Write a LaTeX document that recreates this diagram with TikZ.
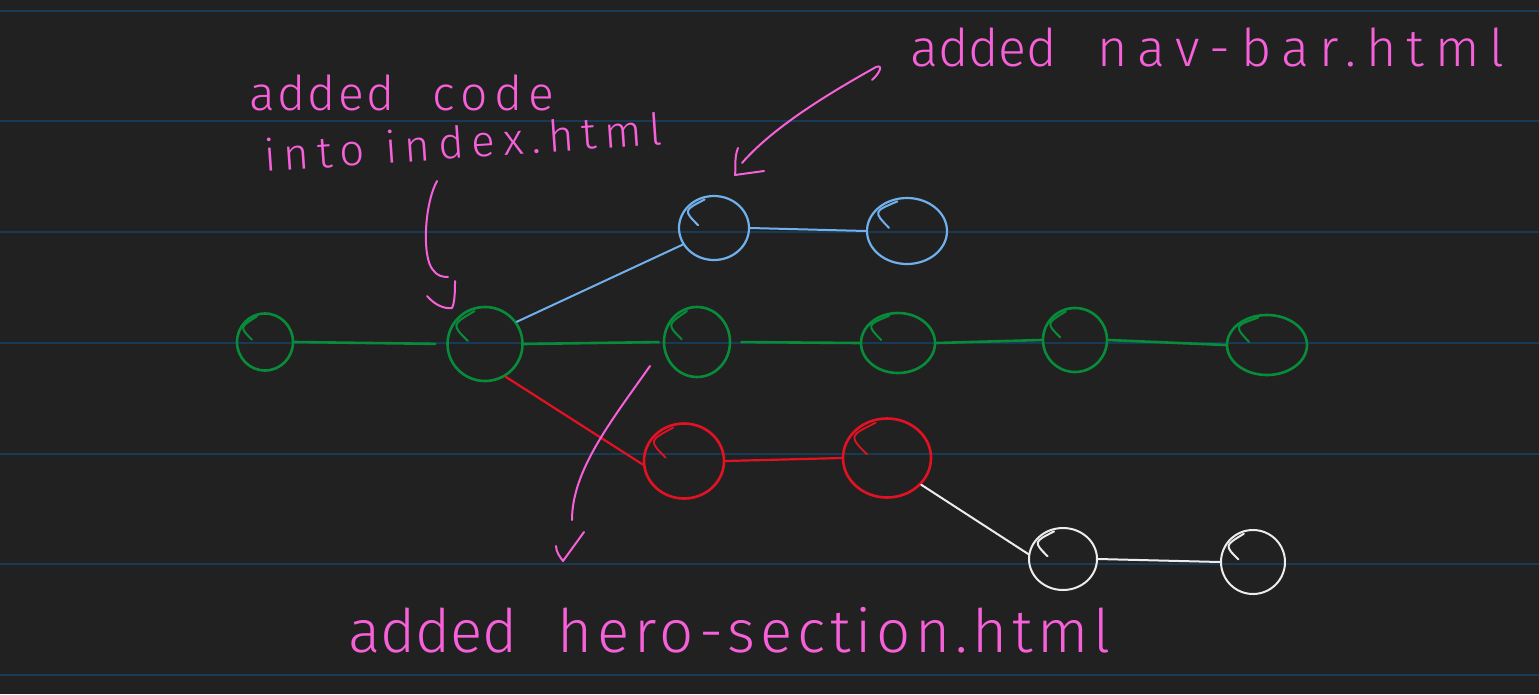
\documentclass[tikz,border=0pt]{standalone}
\usepackage{fontspec}
\usepackage{xcolor}
\usepackage{tikz}
\usetikzlibrary{shapes.geometric,calc}
\newfontfamily\handfont{Fira Sans}[UprightFont=* Light]
\definecolor{board}{RGB}{33,33,33}
\definecolor{rulecol}{RGB}{24,58,84}
\definecolor{inkgreen}{RGB}{8,140,58}
\definecolor{inkblue}{RGB}{112,176,236}
\definecolor{inkred}{RGB}{226,18,36}
\definecolor{inkwhite}{RGB}{236,236,236}
\definecolor{inkpink}{RGB}{246,96,216}
\tikzset{
  commit/.style={ellipse, draw, inner sep=0pt, line width=2.6pt},
  sz/.style 2 args={minimum width=#1pt, minimum height=#2pt},
  gcommit/.style={commit, draw=inkgreen},
  bcommit/.style={commit, draw=inkblue, line width=2.2pt},
  rcommit/.style={commit, draw=inkred},
  wcommit/.style={commit, draw=inkwhite, line width=2pt},
  gedge/.style={draw=inkgreen, line width=2.6pt, line cap=round},
  bedge/.style={draw=inkblue, line width=2pt, line cap=round},
  redge/.style={draw=inkred, line width=2.2pt, line cap=round},
  wedge/.style={draw=inkwhite, line width=2pt, line cap=round},
  rule/.style={draw=rulecol, line width=2pt},
  note/.style={draw=inkpink, line width=2pt, line cap=round, line join=round}, % hand drawn pointers
  notetext/.style={text=inkpink, inner sep=0pt, anchor=base west}
}

\begin{document}
\begin{tikzpicture}[x=1pt, y=-1pt]
  % board and ruled lines
  \fill[board] (0,0) rectangle (1539,694);
  \useasboundingbox (0,0) rectangle (1539,694);
  \foreach \y in {11,121,232,343,454,564,675}
    \draw[rule] (0,\y) -- (1539,\y);

  % main branch
  \node[gcommit, sz={56}{57}] (G1) at (265,342) {};
  \node[gcommit, sz={75}{74}] (G2) at (485,344) {};
  \node[gcommit, sz={66}{70}] (G3) at (697,342) {};
  \node[gcommit, sz={74}{60}] (G4) at (898,343) {};
  \node[gcommit, sz={64}{64}] (G5) at (1075,340) {};
  \node[gcommit, sz={80}{60}] (G6) at (1267,345) {};

  % nav-bar branch
  \node[bcommit, sz={70}{64}] (B1) at (714,228) {};
  \node[bcommit, sz={80}{66}] (B2) at (907,231) {};

  % hero-section branch
  \node[rcommit, sz={80}{75}] (R1) at (684,461) {};
  \node[rcommit, sz={88}{79}] (R2) at (887,458) {};

  % branch off hero-section
  \node[wcommit, sz={68}{62}] (W1) at (1063,559) {};
  \node[wcommit, sz={64}{64}] (W2) at (1253,562) {};

  % pen starts inside the circles
  \foreach \n in {G1,G2,G3,G4,G5,G6}
    \draw[gedge, line width=2pt] ($(\n.center)!0.45!(\n.170)$) .. controls ($(\n.center)!1!(\n.150)$) .. ($(\n.center)!0.9!(\n.108)$);
  \foreach \n in {B1,B2}
    \draw[bedge] ($(\n.center)!0.45!(\n.170)$) .. controls ($(\n.center)!1!(\n.150)$) .. ($(\n.center)!0.9!(\n.108)$);
  \foreach \n in {R1,R2}
    \draw[redge, line width=1.8pt] ($(\n.center)!0.45!(\n.170)$) .. controls ($(\n.center)!1!(\n.150)$) .. ($(\n.center)!0.9!(\n.108)$);
  \foreach \n in {W1,W2}
    \draw[wedge] ($(\n.center)!0.45!(\n.170)$) .. controls ($(\n.center)!1!(\n.150)$) .. ($(\n.center)!0.9!(\n.108)$);

  % commits joined
  \draw[gedge, shorten >=11pt] (G1.east) -- (G2.west);
  \draw[gedge, shorten >=4pt] (G2.east) -- (G3.west);
  \draw[gedge, shorten <=10pt] (G3.east) -- (G4.west);
  \draw[gedge] (G4.east) -- (G5.west);
  \draw[gedge] (G5.east) -- (G6.west);
  \draw[bedge] (G2.35) -- (B1.208);
  \draw[bedge] (B1.east) -- (B2.west);
  \draw[redge] (G2.-58) -- (R1.185);
  \draw[redge] (R1.east) -- (R2.west);
  \draw[wedge] (R2.-38) -- (W1.172);
  \draw[wedge] (W1.east) -- (W2.west);

  % notes
  \node[notetext, font=\handfont\fontsize{48}{50}\selectfont] (codeTxt) at (249,110)
    {{\addfontfeatures{LetterSpace=5}added}\hspace{38pt}{\addfontfeatures{LetterSpace=13}code}};
  \node[notetext, rotate=4, font=\handfont\addfontfeatures{LetterSpace=18}\fontsize{44}{46}\selectfont] (idxTxt) at (265,172) {into index.html};
  \node[notetext, font=\handfont\fontsize{52}{54}\selectfont] (navTxt) at (910,66)
    {added\hspace{40pt}{\addfontfeatures{LetterSpace=20}nav-bar.html}};
  \node[notetext, font=\handfont\fontsize{60}{62}\selectfont] (heroTxt) at (348,652)
    {added\hspace{40pt}{\addfontfeatures{LetterSpace=8}hero-section.html}};

  % pointers
  \coordinate (codeFrom) at (437,181);
  \coordinate (codeTo) at (448,277);
  \coordinate (codeTip) at (452,308);
  \draw[note] (codeFrom) .. controls (424,205) and (422,258) .. (433,270) .. controls (437,276) and (443,277) .. (codeTo);
  \draw[note] ($(codeTip)+(-25,-12)$) .. controls +(8,9) and +(-8,1) .. (codeTip) .. controls +(3,-6) and +(0,8) .. ($(codeTip)+(3,-27)$);

  \coordinate (navFrom) at (872,80);
  \coordinate (navTo) at (742,163);
  \coordinate (navTip) at (735,175);
  \draw[note] (navFrom) .. controls (879,74) and (884,64) .. (876,67) .. controls (835,90) and (775,125) .. (navTo);
  \draw[note] ($(navTip)+(3,-27)$) .. controls +(-4,10) and +(1,-8) .. (navTip) -- ($(navTip)+(29,-4)$);

  \coordinate (heroFrom) at (650,366);
  \coordinate (heroTo) at (572,520);
  \coordinate (heroTip) at (563,561);
  \draw[note] (heroFrom) .. controls (612,420) and (572,470) .. (heroTo);
  \draw[note] ($(heroTip)+(-7,-15)$) .. controls +(0,6) and +(-3,-4) .. (heroTip) -- ($(heroTip)+(21,-29)$);
\end{tikzpicture}
\end{document}
